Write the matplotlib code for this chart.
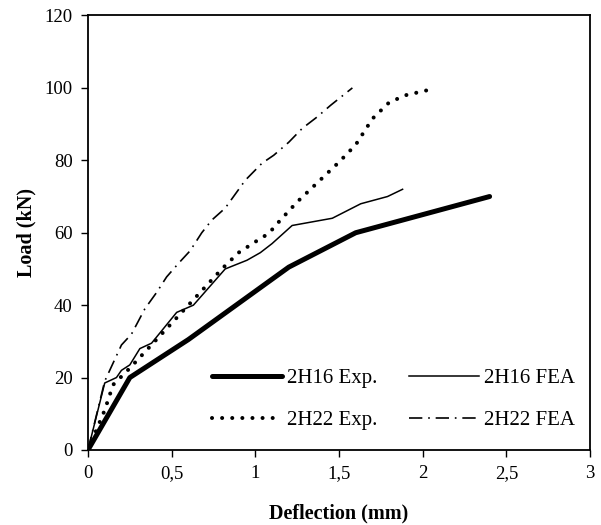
import matplotlib
matplotlib.use('Agg')
import matplotlib.pyplot as plt
from matplotlib.ticker import FixedLocator, FuncFormatter

plt.rcParams['font.family'] = ['Liberation Serif', 'DejaVu Serif']

# 2H16 experimental
h16_exp_x = [0, 0.25, 0.6, 1.2, 1.6, 2.4]
h16_exp_y = [0, 20, 30.5, 50.5, 60, 70]

# 2H16 finite element
h16_fea_x = [0, 0.1, 0.17, 0.2, 0.25, 0.31, 0.38, 0.53, 0.63, 0.82, 0.95, 1.03, 1.1, 1.22, 1.46, 1.63, 1.79, 1.88]
h16_fea_y = [0, 18.5, 20, 22, 23.5, 28, 29.5, 38, 40, 50, 52.4, 54.5, 57, 62, 64, 68, 70, 72]

# 2H22 experimental
h22_exp_x = [0, 0.1, 0.15, 0.2, 0.25, 0.5, 0.6, 0.8, 0.9, 1.0, 1.08, 1.15, 1.25, 1.5, 1.6, 1.7, 1.8, 1.9, 2.07]
h22_exp_y = [0, 11, 18, 20.3, 22.6, 35, 40, 50, 54.5, 57.5, 59.8, 63.5, 68.5, 79.5, 84.3, 91.5, 96, 98, 99.8]

# 2H22 finite element
h22_fea_x = [0, 0.1, 0.17, 0.2, 0.26, 0.34, 0.41, 0.47, 0.54, 0.61, 0.68, 0.74, 0.82, 0.94, 1.04, 1.11, 1.2, 1.28, 1.37, 1.45, 1.58]
h22_fea_y = [0, 19, 26, 29, 32, 39, 43.5, 47.8, 51.5, 55, 60, 63.5, 66.8, 74.5, 79.2, 81.4, 85, 88.8, 92, 95.2, 100]

x_ticks = [0, 0.5, 1, 1.5, 2, 2.5, 3]
y_ticks = [0, 20, 40, 60, 80, 100, 120]

fig = plt.figure(figsize=(6.01, 5.25), dpi=100)
ax = fig.add_axes([0.1464, 0.1429, 0.8353, 0.8276])

l1, = ax.plot(h16_exp_x, h16_exp_y, color='black', lw=3.6, label='2H16 Exp.', solid_capstyle='round')
l2, = ax.plot(h16_fea_x, h16_fea_y, color='black', lw=1.1, label='2H16 FEA')
l3, = ax.plot(h22_exp_x, h22_exp_y, color='black', lw=2.9, linestyle=(0, (0.01, 2.5)),
              dash_capstyle='round', label='2H22 Exp.')
l4, = ax.plot(h22_fea_x, h22_fea_y, color='black', lw=1.2, linestyle=(0, (8, 3.5, 1, 3.5)),
              label='2H22 FEA')

ax.set_xlim(0, 3)
ax.set_ylim(0, 120)
ax.xaxis.set_major_locator(FixedLocator(x_ticks))
ax.yaxis.set_major_locator(FixedLocator(y_ticks))
ax.xaxis.set_major_formatter(FuncFormatter(lambda v, p: ('%g' % v).replace('.', ',')))
ax.tick_params(direction='out', length=5, width=1, labelsize=13.5, pad=6)
for s in ax.spines.values():
    s.set_linewidth(1.3)

ax.set_xlabel('Deflection (mm)', fontsize=14.5, fontweight='bold', labelpad=15)
ax.set_ylabel('Load (kN)', fontsize=14.5, fontweight='bold', labelpad=6)

# legend fills column by column, so order gives rows: 2H16 pair, then 2H22 pair
ax.legend([l1, l3, l2, l4], ['2H16 Exp.', '2H22 Exp.', '2H16 FEA', '2H22 FEA'],
          ncol=2, frameon=False, fontsize=15, handlelength=3.36, handletextpad=0.24,
          columnspacing=1.5, labelspacing=1.1, borderpad=0, borderaxespad=0,
          loc='lower left', bbox_to_anchor=(0.247, 0.045))

fig.savefig('out.png', dpi=100)
